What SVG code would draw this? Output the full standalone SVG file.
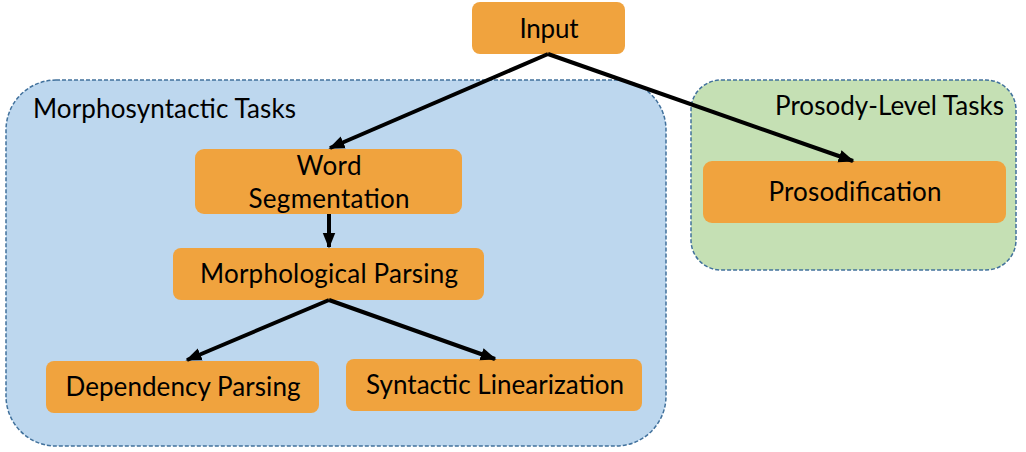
<svg xmlns="http://www.w3.org/2000/svg" width="1026" height="452" viewBox="0 0 1026 452">
<style>
.grp{stroke:#41719C;stroke-width:1.5;stroke-dasharray:4 2}
.node{fill:#F0A33E}
.t{font-family:Lato,"Open Sans","Liberation Sans",sans-serif;font-size:26px;fill:#000}
.c{text-anchor:middle}
.edge{stroke:#000;stroke-width:4;fill:none}
</style>
<defs>
<marker id="ah" viewBox="0 0 10 10" refX="9" refY="5" markerWidth="4" markerHeight="4" orient="auto" markerUnits="strokeWidth">
<path d="M0,1 L10,5 L0,9 z" fill="#000"/>
</marker>
</defs>
<g id="morphosyntactic-group">
<rect class="grp" x="6" y="80" width="660" height="366" rx="50" fill="#BDD7EE"/>
<text class="t" x="33" y="118" textLength="263">Morphosyntactic Tasks</text>
</g>
<g id="prosody-group">
<rect class="grp" x="691" y="80" width="325" height="190" rx="30" fill="#C5E0B4"/>
<text class="t" x="1004" y="115" text-anchor="end" textLength="229">Prosody-Level Tasks</text>
</g>
<g id="input">
<rect class="node" x="472" y="2" width="153" height="52" rx="8"/>
<text class="t c" x="549" y="38" textLength="59">Input</text>
</g>
<g id="word-segmentation">
<rect class="node" x="195" y="149" width="267" height="65" rx="9"/>
<text class="t c" x="329" y="175" textLength="65">Word</text>
<text class="t c" x="329" y="208" textLength="161">Segmentation</text>
</g>
<g id="morphological-parsing">
<rect class="node" x="173" y="248" width="311" height="52" rx="8"/>
<text class="t c" x="329" y="283" textLength="258">Morphological Parsing</text>
</g>
<g id="dependency-parsing">
<rect class="node" x="46" y="361" width="273" height="52" rx="8"/>
<text class="t c" x="183" y="396" textLength="235">Dependency Parsing</text>
</g>
<g id="syntactic-linearization">
<rect class="node" x="346" y="359" width="296" height="52" rx="8"/>
<text class="t c" x="495" y="394" textLength="258">Syntactic Linearization</text>
</g>
<g id="prosodification">
<rect class="node" x="703" y="161" width="303" height="62" rx="9"/>
<text class="t c" x="855" y="201" textLength="173">Prosodification</text>
</g>
<g id="connectors">
<line class="edge" x1="548" y1="54" x2="330" y2="148" marker-end="url(#ah)"/>
<line class="edge" x1="548" y1="54" x2="853" y2="161" marker-end="url(#ah)"/>
<line class="edge" x1="329" y1="214" x2="329" y2="247" marker-end="url(#ah)"/>
<line class="edge" x1="329" y1="300" x2="187" y2="360" marker-end="url(#ah)"/>
<line class="edge" x1="329" y1="300" x2="495" y2="359" marker-end="url(#ah)"/>
</g>
</svg>
